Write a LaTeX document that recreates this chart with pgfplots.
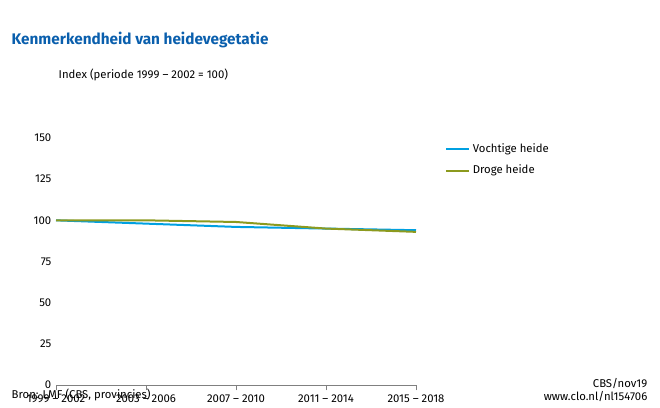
\documentclass[border=0pt]{standalone}
\usepackage{pgfplots}
\pgfplotsset{compat=1.18}
\usepackage{fontspec}
\setmainfont{Fira Sans}
\definecolor{tblue}{HTML}{0A5FAD}
\definecolor{lblue}{HTML}{00A0E1}
\definecolor{lgreen}{HTML}{8C9A1E}
\begin{document}
\begin{tikzpicture}[x=0.75pt,y=0.75pt,font=\fontsize{8.5}{10}\selectfont]
\path[use as bounding box] (0,0) rectangle (660,407);
\node[anchor=west,font=\fontsize{11.5}{13}\selectfont\bfseries,text=tblue] at (7,367) {Kenmerkendheid van heidevegetatie};
\node[anchor=west] at (54,332) {Index (periode 1999 -- 2002 = 100)};
\node[anchor=west] at (7,12) {Bron: LMF (CBS, provincies)};
\node[anchor=east,align=right] at (652,17) {CBS/nov19\\www.clo.nl/nl154706};
\begin{axis}[at={(42pt,16.5pt)},anchor=origin,scale only axis,width=270pt,height=185.25pt,
  xmin=0,xmax=4,ymin=0,ymax=150,ytick={0,25,...,150},
  xtick={0,1,2,3,4},xticklabels={1999 -- 2002,2003 -- 2006,2007 -- 2010,2011 -- 2014,2015 -- 2018},
  axis y line=none, axis x line*=bottom, x axis line style={-,gray},
  ymajorgrids, grid style={gray!35},
  every tick label/.style={font=\fontsize{8.5}{10}\selectfont},
  /pgf/number format/assume math mode=true,
  ytick style={draw=none},
  xtick style={gray}, tick align=outside, major tick length=4pt,
  legend style={at={(1.07,1)},anchor=north west,draw=none,font=\fontsize{8.5}{10}\selectfont,row sep=4pt},
  legend cell align=left, legend image post style={line width=1.5pt},
  clip=false]
\addplot[lblue,line width=1.5pt] coordinates {(0,100)(1,98)(2,96)(3,95)(4,94)};
\addlegendentry{Vochtige heide}
\addplot[lgreen,line width=1.5pt] coordinates {(0,100)(1,100)(2,99)(3,95)(4,93)};
\addlegendentry{Droge heide}
\pgfplotsinvokeforeach{0,25,50,75,100,125,150}{\node[anchor=east,font=\fontsize{8.5}{10}\selectfont] at (axis cs:0,#1) {#1};}
\end{axis}
\end{tikzpicture}
\end{document}
